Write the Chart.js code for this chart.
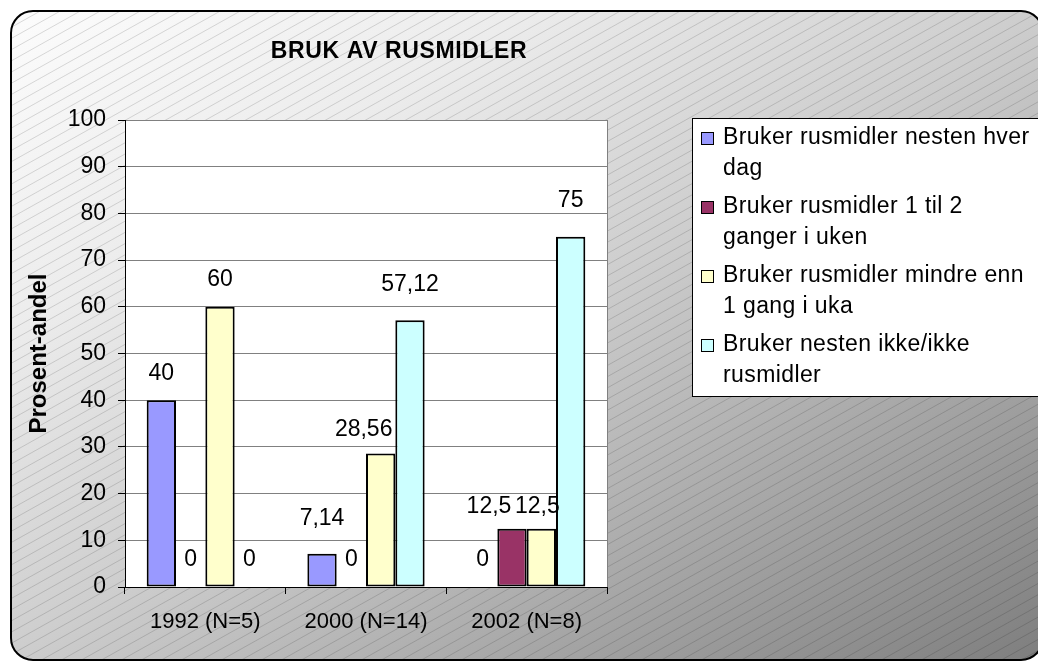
<!DOCTYPE html>
<html lang="no">
<head>
  <meta charset="UTF-8">
  <title>Bruk av rusmidler</title>
  <script src="https://cdn.jsdelivr.net/npm/chart.js@4.4.1/dist/chart.umd.min.js"></script>
  <style>
    body {
      margin: 0;
      background: #ffffff;
    }
    #wrap {
      position: relative;
      width: 1038px;
      height: 663px;
    }
  </style>
</head>
<body>
  <div id="wrap">
    <canvas id="rusChart"></canvas>
  </div>

  <script>
    // chart data
    const chartTitle = 'BRUK AV RUSMIDLER';
    const yAxisTitle = 'Prosent-andel';
    const categories = ['1992 (N=5)', '2000 (N=14)', '2002 (N=8)'];
    const seriesNames = [
      'Bruker rusmidler nesten hver dag',
      'Bruker rusmidler 1 til 2 ganger i uken',
      'Bruker rusmidler mindre enn 1 gang i uka',
      'Bruker nesten ikke/ikke rusmidler'
    ];
    const dailyUse = [40, 7.14, 0];
    const weeklyUse = [0, 0, 12.5];
    const lessThanWeekly = [60, 28.56, 12.5];
    const almostNever = [0, 57.12, 75];
    const yTicks = [0, 10, 20, 30, 40, 50, 60, 70, 80, 90, 100];

    const seriesColors = ['#9999FF', '#993366', '#FFFFCC', '#CCFFFF'];
    const FONT = "'Liberation Sans', Arial, sans-serif";

    // Excel moved a few labels to avoid collisions
    const labelNudge = {
      '0-1': [0, -8],
      '3-1': [0, -9],
      '2-1': [-17, 3],
      '1-2': [-23, 5],
      '2-2': [-4, 5],
      '3-2': [0, -9]
    };

    const roundRect = (ctx, x, y, w, h, r) => {
      ctx.beginPath();
      ctx.moveTo(x + r, y);
      ctx.lineTo(x + w - r, y);
      ctx.arcTo(x + w, y, x + w, y + r, r);
      ctx.lineTo(x + w, y + h - r);
      ctx.arcTo(x + w, y + h, x + w - r, y + h, r);
      ctx.lineTo(x + r, y + h);
      ctx.arcTo(x, y + h, x, y + h - r, r);
      ctx.lineTo(x, y + r);
      ctx.arcTo(x, y, x + r, y, r);
      ctx.closePath();
    };

    const wrapText = (ctx, text, maxW) => {
      const words = text.split(' ');
      const lines = [];
      let line = '';
      words.forEach((w) => {
        const test = line ? line + ' ' + w : w;
        if (line && ctx.measureText(test).width > maxW) {
          lines.push(line);
          line = w;
        } else {
          line = test;
        }
      });
      if (line) lines.push(line);
      return lines;
    };

    const backgroundPlugin = {
      id: 'background',
      beforeDraw(chart) {
        const ctx = chart.ctx;
        const x0 = 11, y0 = 11, w = 1032, h = 649;
        ctx.save();
        roundRect(ctx, x0, y0, w, h, 22);
        // diagonal gradient, equal tone at top-right and bottom-left
        const k = 2 * w * h / (w * w + h * h);
        const grad = ctx.createLinearGradient(x0, y0, x0 + h * k, y0 + w * k);
        grad.addColorStop(0, '#fcfcfc');
        grad.addColorStop(0.25, '#ececec');
        grad.addColorStop(0.5, '#cdcdcd');
        grad.addColorStop(1, '#7e7e7e');
        ctx.fillStyle = grad;
        ctx.fill();
        ctx.clip();
        // hatch
        ctx.strokeStyle = 'rgba(0,0,0,0.14)';
        ctx.lineWidth = 1;
        const slope = 0.56;
        for (let c = 0; c < 663 + 1038 * slope; c += 11.2) {
          ctx.beginPath();
          ctx.moveTo(0, c);
          ctx.lineTo(1038, c - 1038 * slope);
          ctx.stroke();
        }
        ctx.restore();

        ctx.save();
        roundRect(ctx, x0, y0, w, h, 22);
        ctx.strokeStyle = '#000';
        ctx.lineWidth = 2;
        ctx.stroke();
        ctx.restore();

        // plot area
        const a = chart.chartArea;
        ctx.save();
        ctx.fillStyle = '#ffffff';
        ctx.fillRect(a.left, a.top, a.right - a.left, a.bottom - a.top);
        ctx.strokeStyle = '#808080';
        ctx.lineWidth = 1;
        ctx.strokeRect(a.left + 0.5, a.top + 0.5, a.right - a.left, a.bottom - a.top);
        ctx.restore();
      }
    };

    const valueLabelPlugin = {
      id: 'valueLabels',
      afterDatasetsDraw(chart) {
        const ctx = chart.ctx;
        ctx.save();
        ctx.font = '23px ' + FONT;
        ctx.fillStyle = '#000';
        ctx.textAlign = 'center';
        ctx.textBaseline = 'middle';
        chart.data.datasets.forEach((ds, di) => {
          chart.getDatasetMeta(di).data.forEach((bar, i) => {
            const nudge = labelNudge[di + '-' + i] || [0, 0];
            const text = String(ds.data[i]).replace('.', ',');
            ctx.fillText(text, bar.x + nudge[0], bar.y - 27 + nudge[1]);
          });
        });
        ctx.restore();
      }
    };

    const titleLegendPlugin = {
      id: 'titleLegend',
      afterDraw(chart) {
        const ctx = chart.ctx;
        ctx.save();
        // title
        ctx.font = 'bold 23px ' + FONT;
        ctx.letterSpacing = '0.6px';
        ctx.fillStyle = '#000';
        ctx.textAlign = 'center';
        ctx.textBaseline = 'middle';
        ctx.fillText(chartTitle, 399, 52);

        // legend box
        ctx.letterSpacing = '0px';
        ctx.fillStyle = '#ffffff';
        ctx.fillRect(692, 118, 360, 278);
        ctx.strokeStyle = '#000';
        ctx.lineWidth = 1;
        ctx.strokeRect(692.5, 118.5, 360, 278);

        ctx.font = '23px ' + FONT;
        ctx.textAlign = 'left';
        chart.data.datasets.forEach((ds, i) => {
          const yTop = 138 + i * 69;
          ctx.fillStyle = ds.backgroundColor;
          ctx.fillRect(701, yTop - 6, 13, 13);
          ctx.strokeStyle = '#000';
          ctx.strokeRect(701.5, yTop - 5.5, 12, 12);
          ctx.letterSpacing = '0px';
          const lines = wrapText(ctx, ds.label, 298);
          ctx.letterSpacing = '0.4px';
          ctx.fillStyle = '#000';
          lines.forEach((ln, j) => ctx.fillText(ln, 723, yTop + j * 31));
          ctx.letterSpacing = '0px';
        });
        ctx.restore();
      }
    };

    const seriesData = [dailyUse, weeklyUse, lessThanWeekly, almostNever];

    const ctx = document.getElementById('rusChart').getContext('2d');
    new Chart(ctx, {
      type: 'bar',
      data: {
        labels: categories,
        datasets: seriesData.map((vals, i) => ({
          label: seriesNames[i],
          data: vals,
          backgroundColor: seriesColors[i],
          borderColor: '#000',
          borderWidth: (c) => (c.raw === 0 ? 0 : 2),
          borderSkipped: false,
          categoryPercentage: 0.73,
          barPercentage: 1
        }))
      },
      options: {
        responsive: true,
        maintainAspectRatio: false,
        animation: false,
        layout: {
          padding: { left: 0, top: 120, right: 431, bottom: 0 }
        },
        plugins: {
          legend: { display: false },
          title: { display: false },
          tooltip: { enabled: false }
        },
        scales: {
          x: {
            grid: {
              display: true,
              drawOnChartArea: false,
              offset: true,
              tickLength: 7,
              tickColor: '#000'
            },
            border: { color: '#000', width: 1 },
            ticks: {
              color: '#000',
              font: { family: FONT, size: 22 },
              padding: 15
            },
            afterFit: (s) => { s.height = 76; }
          },
          y: {
            min: 0,
            max: 100,
            afterBuildTicks: (s) => { s.ticks = yTicks.map((v) => ({ value: v })); },
            grid: {
              color: '#808080',
              tickColor: '#000',
              tickLength: 7
            },
            border: { color: '#000', width: 1 },
            ticks: {
              color: '#000',
              font: { family: FONT, size: 23 },
              padding: 12
            },
            title: {
              display: true,
              text: yAxisTitle,
              color: '#000',
              font: { family: FONT, size: 24, weight: 'bold' },
              padding: { top: 25, bottom: 0 }
            },
            afterFit: (s) => { s.width = 125; }
          }
        }
      },
      plugins: [backgroundPlugin, valueLabelPlugin, titleLegendPlugin]
    });
  </script>
</body>
</html>
